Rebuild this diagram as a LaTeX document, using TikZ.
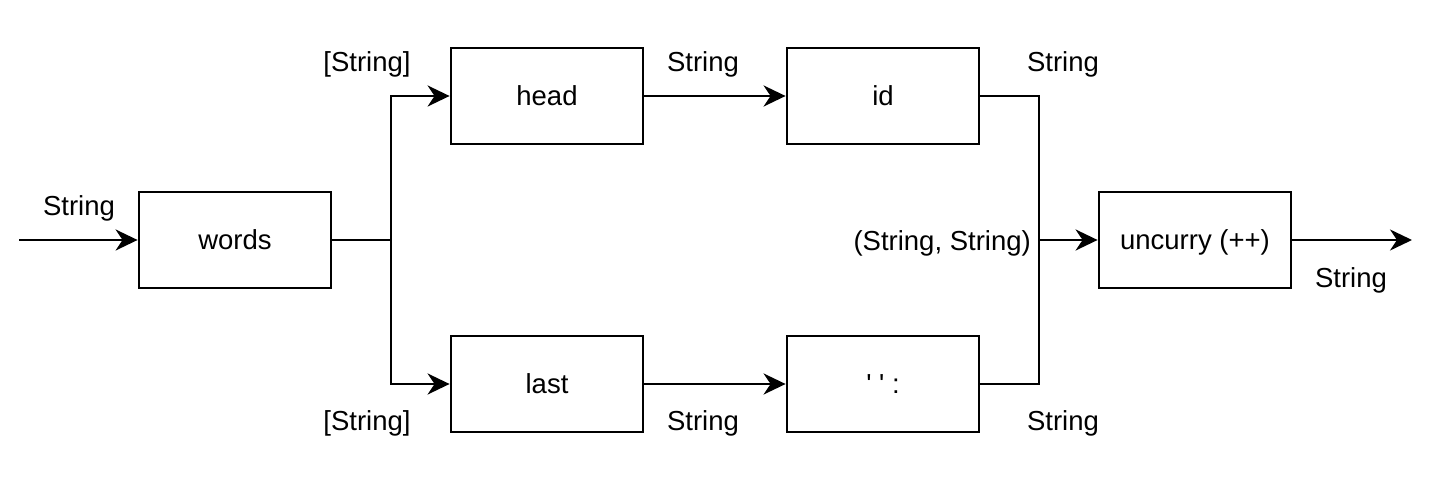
\documentclass[tikz,border=0pt]{standalone}
\usepackage{fontspec}
\setmainfont{Liberation Sans}
\usetikzlibrary{arrows.meta}
\begin{document}
\begin{tikzpicture}[x=1pt,y=-1pt,
  box/.style={draw,line width=2.8pt,minimum width=192pt,minimum height=96pt,inner sep=0pt,text depth=0pt,text height=20pt},
  lbl/.style={inner sep=0pt},
  wire/.style={line width=2.8pt},
  arr/.style={wire,-{Stealth[length=22pt,width=21pt,inset=7pt]}},
  every node/.style={font=\fontsize{27.5}{32}\selectfont}]
\useasboundingbox (0,0) rectangle (1436,478);
\node[box] (words) at (235,240) {words};
\node[box] (head) at (547,96) {head};
\node[box] (id) at (883,96) {id};
\node[box] (last) at (547,384) {last};
\node[box] (cons) at (883,384) {\textquotesingle\ \textquotesingle\ :};
\node[box] (unc) at (1195,240) {uncurry (++)};
\coordinate (in) at (19,240);
\coordinate (out) at (1412,240);
\coordinate (split) at (391,240);
\coordinate (join) at (1039,240);
\draw[arr] (in) -- (words);
\draw[wire] (words) -- (split);
\draw[arr] (split) |- (head);
\draw[arr] (split) |- (last);
\draw[arr] (head) -- (id);
\draw[arr] (last) -- (cons);
\draw[wire] (id) -| (join);
\draw[wire] (cons) -| (join);
\draw[arr] (join) -- (unc);
\draw[arr] (unc) -- (out);
\node[lbl] (l1) at (79,208) {String};
\node[lbl] (l2) at (367,64) {[String]};
\node[lbl] (l3) at (367,423) {[String]};
\node[lbl] (l4) at (703,64) {String};
\node[lbl] (l5) at (703,423) {String};
\node[lbl] (l6) at (1063,64) {String};
\node[lbl] (l7) at (1063,423) {String};
\node[lbl,anchor=east] (l8) at (1031,243) {(String, String)};
\node[lbl] (l9) at (1351,280) {String};
\end{tikzpicture}
\end{document}
